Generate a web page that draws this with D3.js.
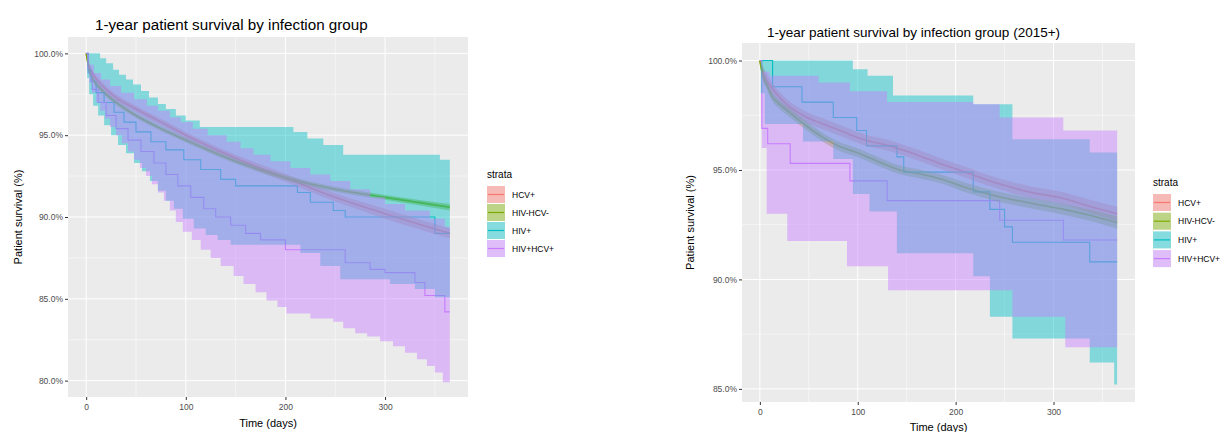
<!DOCTYPE html>
<html><head><meta charset="utf-8">
<script src="https://cdn.jsdelivr.net/npm/d3@7"></script>
<style>
body{margin:0;background:#fff}
svg{display:block}
text{font-family:"Liberation Sans",Arial,sans-serif}
</style>
</head><body>
<svg id="chart" width="1231" height="432"></svg>
<script>
// ---------- shared ----------
const strata = ["HCV+", "HIV-HCV-", "HIV+", "HIV+HCV+"];
const strataColors = ["#F8766D", "#7CAE00", "#00BFC4", "#C77CFF"];
const xTicks = [0, 100, 200, 300];
const xMinorTicks = [50, 150, 250, 350];
const xTitle = "Time (days)";
const yTitle = "Patient survival (%)";
const legendTitle = "strata";

// ---------- left panel: all years ----------
const leftTitle = "1-year patient survival by infection group";
const leftYTicks = [80, 85, 90, 95, 100];
const leftYMinor = [82.5, 87.5, 92.5, 97.5];

const L_hcv_est = [[0,100],[3,99.2],[7,98.7],[15,98.1],[30,97.3],[50,96.6],[75,95.8],[100,95.0],[150,93.6],[200,92.4],[250,91.2],[300,90.2],[365,89.0]];
const L_hcv_lo  = [[0,100],[3,99.0],[7,98.5],[15,97.9],[30,97.1],[50,96.4],[75,95.6],[100,94.8],[150,93.4],[200,92.15],[250,90.95],[300,89.9],[365,88.7]];
const L_hcv_hi  = [[0,100],[3,99.4],[7,98.9],[15,98.3],[30,97.5],[50,96.8],[75,96.0],[100,95.2],[150,93.8],[200,92.65],[250,91.45],[300,90.5],[365,89.3]];

const L_neg_est = [[0,100],[3,99.0],[7,98.4],[15,97.8],[30,97.0],[50,96.2],[75,95.4],[100,94.7],[150,93.4],[200,92.4],[250,91.7],[300,91.2],[365,90.6]];
const L_neg_lo  = [[0,100],[3,98.85],[7,98.25],[15,97.65],[30,96.85],[50,96.05],[75,95.25],[100,94.55],[150,93.25],[200,92.25],[250,91.55],[300,91.05],[365,90.4]];
const L_neg_hi  = [[0,100],[3,99.15],[7,98.55],[15,97.95],[30,97.15],[50,96.35],[75,95.55],[100,94.85],[150,93.55],[200,92.55],[250,91.85],[300,91.35],[365,90.8]];

const L_hiv_est = [[0,100],[2,99.0],[5,98.3],[10,97.6],[18,97.0],[28,96.4],[38,95.8],[50,95.2],[65,94.6],[80,94.1],[98,93.5],[115,92.9],[135,92.3],[150,91.9],[212,91.5],[225,90.9],[248,90.4],[260,90.0],[350,89.0],[365,89.0]];
const L_hiv_hi  = [[0,100],[14,99.7],[20,99.4],[27,99.0],[33,98.7],[40,98.4],[47,98.1],[55,97.7],[63,97.3],[72,96.9],[80,96.6],[90,96.2],[100,95.9],[114,95.5],[208,95.2],[222,94.8],[238,94.4],[258,93.8],[355,93.5],[365,93.5]];
const L_hiv_lo  = [[0,100],[1,98.5],[3,97.5],[7,96.8],[12,96.2],[18,95.6],[25,95.0],[32,94.4],[40,93.9],[48,93.3],[56,92.8],[64,92.2],[72,91.6],[80,91.0],[88,90.5],[97,89.9],[108,89.3],[120,88.9],[132,88.6],[145,88.3],[215,87.8],[235,87.0],[255,86.2],[305,85.9],[330,85.6],[350,85.1],[365,85.1]];

const L_co_est = [[0,100],[2,98.8],[6,97.8],[12,97.0],[20,96.2],[30,95.4],[42,94.7],[55,94.0],[68,93.3],[80,92.6],[92,91.9],[105,91.2],[118,90.5],[130,90.0],[145,89.5],[160,89.0],[175,88.6],[200,88.0],[260,87.2],[285,86.8],[300,86.6],[330,86.0],[340,85.2],[360,84.2],[365,84.2]];
const L_co_hi  = [[0,100],[3,99.3],[8,98.8],[15,98.4],[24,98.0],[35,97.6],[48,97.2],[61,96.8],[72,96.5],[84,96.1],[95,95.8],[107,95.4],[122,95.0],[141,94.6],[155,94.2],[168,93.8],[185,93.4],[205,93.0],[225,92.6],[245,92.2],[265,91.7],[285,91.2],[300,90.8],[320,90.4],[345,89.9],[360,89.4],[365,89.4]];
const L_co_lo  = [[0,100],[1,99.0],[3,98.2],[6,97.6],[10,97.0],[14,96.5],[19,96.0],[24,95.5],[30,95.0],[36,94.5],[42,94.0],[48,93.5],[54,93.0],[60,92.5],[66,92.0],[72,91.5],[78,91.0],[84,90.4],[90,89.7],[97,89.1],[106,88.6],[115,88.0],[125,87.5],[135,87.0],[148,86.4],[158,85.9],[170,85.4],[181,84.9],[192,84.5],[201,84.1],[225,83.8],[248,83.6],[258,83.2],[270,82.9],[282,82.7],[295,82.4],[308,82.1],[320,81.7],[332,81.3],[342,80.9],[350,80.5],[358,79.9],[365,79.9]];

// ---------- right panel: 2015+ ----------
const rightTitle = "1-year patient survival by infection group (2015+)";
const rightYTicks = [85, 90, 95, 100];
const rightYMinor = [87.5, 92.5, 97.5];

const R_hcv_est = [[0,100],[3,99.5],[7,99.1],[13,98.7],[25,98.1],[48,97.4],[65,97.1],[82,96.8],[105,96.4],[133,96.1],[160,95.7],[184,95.3],[210,94.9],[242,94.4],[275,94.0],[310,93.7],[340,93.3],[365,93.0]];
const R_hcv_lo  = [[0,100],[3,99.2],[7,98.8],[13,98.45],[25,97.85],[48,97.15],[65,96.85],[82,96.55],[105,96.15],[133,95.85],[160,95.45],[184,95.05],[210,94.65],[242,94.15],[275,93.73],[310,93.42],[340,93.0],[365,92.68]];
const R_hcv_hi  = [[0,100],[3,99.75],[7,99.4],[13,98.95],[25,98.35],[48,97.65],[65,97.35],[82,97.05],[105,96.65],[133,96.35],[160,95.95],[184,95.55],[210,95.15],[242,94.65],[275,94.27],[310,93.98],[340,93.6],[365,93.32]];

const R_neg_est = [[0,100],[3,99.3],[7,98.9],[12,98.4],[20,98.0],[31,97.6],[45,97.1],[64,96.5],[80,96.1],[99,95.8],[120,95.4],[143,95.0],[165,94.8],[184,94.6],[210,94.2],[242,93.8],[275,93.5],[310,93.2],[340,92.9],[365,92.6]];
const R_neg_lo  = [[0,100],[3,99.1],[7,98.7],[12,98.2],[20,97.8],[31,97.4],[45,96.9],[64,96.3],[80,95.9],[99,95.6],[120,95.2],[143,94.8],[165,94.6],[184,94.4],[210,93.98],[242,93.57],[275,93.26],[310,92.95],[340,92.64],[365,92.32]];
const R_neg_hi  = [[0,100],[3,99.5],[7,99.1],[12,98.6],[20,98.2],[31,97.8],[45,97.3],[64,96.7],[80,96.3],[99,96.0],[120,95.6],[143,95.2],[165,95.0],[184,94.8],[210,94.42],[242,94.03],[275,93.74],[310,93.45],[340,93.16],[365,92.88]];

const R_hiv_est = [[0,100],[13,98.8],[43,98.1],[75,97.4],[99,96.8],[109,96.1],[140,95.6],[147,94.9],[218,94.0],[235,93.2],[250,92.4],[258,91.7],[337,90.8],[365,90.8]];
const R_hiv_hi  = [[0,100],[95,99.6],[110,99.3],[136,98.4],[218,98.0],[258,96.4],[337,95.8],[365,95.8]];
const R_hiv_lo  = [[0,100],[1,98.5],[5,97.1],[44,96.3],[75,95.5],[95,93.9],[112,93.1],[140,91.2],[218,90.15],[235,88.3],[258,87.3],[337,86.2],[362,85.2],[365,85.2]];

const R_co_est = [[0,100],[2,96.9],[8,96.2],[31,95.3],[92,94.5],[130,93.6],[245,92.7],[310,91.8],[365,91.8]];
const R_co_hi  = [[0,100],[2,99.5],[10,99.3],[60,99.0],[92,98.6],[130,98.1],[218,98.0],[245,97.4],[310,96.8],[365,96.8]];
const R_co_lo  = [[0,100],[2,96.0],[7,93.0],[28,91.75],[89,90.6],[131,89.5],[258,88.3],[312,86.9],[365,86.9]];

// ---------- drawing ----------
const svg = d3.select("#chart");

function stepValue(arr, t) {
  let v = arr[0][1];
  for (const p of arr) { if (p[0] <= t) v = p[1]; else break; }
  return v;
}

function drawPanel(cfg) {
  const g = svg.append("g");
  const x = d3.scaleLinear().domain([-18.25, 383.25]).range([cfg.left, cfg.right]);
  const y = d3.scaleLinear().domain(cfg.yDomain).range([cfg.bottom, cfg.top]);

  g.append("rect").attr("x", cfg.left).attr("y", cfg.top)
    .attr("width", cfg.right - cfg.left).attr("height", cfg.bottom - cfg.top)
    .attr("fill", "#EBEBEB");

  // grid
  g.selectAll(".ymin").data(cfg.yMinor).enter().append("line")
    .attr("x1", cfg.left).attr("x2", cfg.right)
    .attr("y1", d => y(d)).attr("y2", d => y(d))
    .attr("stroke", "#fff").attr("stroke-width", 0.5);
  g.selectAll(".xmin").data(xMinorTicks).enter().append("line")
    .attr("y1", cfg.top).attr("y2", cfg.bottom)
    .attr("x1", d => x(d)).attr("x2", d => x(d))
    .attr("stroke", "#fff").attr("stroke-width", 0.5);
  g.selectAll(".ymaj").data(cfg.yTicks).enter().append("line")
    .attr("x1", cfg.left).attr("x2", cfg.right)
    .attr("y1", d => y(d)).attr("y2", d => y(d))
    .attr("stroke", "#fff").attr("stroke-width", 1);
  g.selectAll(".xmaj").data(xTicks).enter().append("line")
    .attr("y1", cfg.top).attr("y2", cfg.bottom)
    .attr("x1", d => x(d)).attr("x2", d => x(d))
    .attr("stroke", "#fff").attr("stroke-width", 1);

  const clipId = "clip" + cfg.id;
  svg.append("clipPath").attr("id", clipId).append("rect")
    .attr("x", cfg.left).attr("y", cfg.top)
    .attr("width", cfg.right - cfg.left).attr("height", cfg.bottom - cfg.top);
  const plot = g.append("g").attr("clip-path", `url(#${clipId})`);

  // lines first
  cfg.series.forEach((s, i) => {
    const curve = s.step ? d3.curveStepAfter : d3.curveMonotoneX;
    const line = d3.line().x(d => x(d[0])).y(d => y(d[1])).curve(curve);
    plot.append("path").attr("d", line(s.est))
      .attr("fill", "none").attr("stroke", strataColors[i])
      .attr("stroke-width", s.step ? 1.1 : 1.6);
  });
  // ribbons on top
  cfg.series.forEach((s, i) => {
    let pts, curve;
    if (s.step) {
      const times = Array.from(new Set(s.lo.map(d => d[0]).concat(s.hi.map(d => d[0])))).sort((a, b) => a - b);
      pts = times.map(t => [t, stepValue(s.lo, t), stepValue(s.hi, t)]);
      curve = d3.curveStepAfter;
    } else {
      pts = s.lo.map((d, k) => [d[0], d[1], s.hi[k][1]]);
      curve = d3.curveMonotoneX;
    }
    const area = d3.area().x(d => x(d[0])).y0(d => y(d[1])).y1(d => y(d[2])).curve(curve);
    plot.append("path").attr("d", area(pts))
      .attr("fill", strataColors[i]).attr("fill-opacity", 0.45).attr("stroke", "none");
  });

  // axes
  const ya = g.append("g").attr("transform", `translate(${cfg.left},0)`)
    .call(d3.axisLeft(y).tickValues(cfg.yTicks).tickSize(3).tickPadding(2)
      .tickFormat(d => d3.format(".1f")(d) + "%"));
  const xa = g.append("g").attr("transform", `translate(0,${cfg.bottom})`)
    .call(d3.axisBottom(x).tickValues(xTicks).tickSize(3).tickPadding(4));
  [ya, xa].forEach(a => {
    a.select(".domain").remove();
    a.selectAll(".tick line").attr("stroke", "#333");
    a.selectAll(".tick text").attr("fill", "#4D4D4D").attr("font-size", 8.5)
      .attr("font-family", "Liberation Sans, Arial, sans-serif");
  });

  // titles
  g.append("text").attr("x", cfg.titleX).attr("y", cfg.titleY)
    .attr("font-size", cfg.titleSize).attr("fill", "#000").text(cfg.title);
  g.append("text").attr("x", (cfg.left + cfg.right) / 2).attr("y", cfg.xTitleY)
    .attr("text-anchor", "middle").attr("font-size", 11).attr("fill", "#000").text(xTitle);
  g.append("text")
    .attr("transform", `translate(${cfg.yTitleX},${(cfg.top + cfg.bottom) / 2}) rotate(-90)`)
    .attr("text-anchor", "middle").attr("font-size", 11).attr("fill", "#000").text(yTitle);

  // legend
  const lg = g.append("g").attr("transform", `translate(${cfg.legX},${cfg.legY})`);
  lg.append("text").attr("x", 0).attr("y", 0).attr("font-size", 10).attr("fill", "#000").text(legendTitle);
  strata.forEach((s, i) => {
    const ky = 8 + i * cfg.legStep;
    lg.append("rect").attr("x", 0).attr("y", ky).attr("width", 18).attr("height", 17).attr("fill", "#F2F2F2");
    lg.append("rect").attr("x", 0).attr("y", ky).attr("width", 18).attr("height", 17)
      .attr("fill", strataColors[i]).attr("fill-opacity", 0.45);
    lg.append("line").attr("x1", 1).attr("x2", 17).attr("y1", ky + 8.5).attr("y2", ky + 8.5)
      .attr("stroke", strataColors[i]).attr("stroke-width", 1.2);
    lg.append("text").attr("x", 25).attr("y", ky + 11.5).attr("font-size", 8.5).attr("fill", "#000").text(s);
  });
}

drawPanel({
  id: "L", left: 68, right: 468, top: 37, bottom: 397, yDomain: [79, 101],
  yTicks: leftYTicks, yMinor: leftYMinor,
  title: leftTitle, titleX: 95, titleY: 30, titleSize: 15.2,
  xTitleY: 427, yTitleX: 22,
  legX: 487, legY: 178, legStep: 18,
  series: [
    {est: L_hcv_est, lo: L_hcv_lo, hi: L_hcv_hi, step: false},
    {est: L_neg_est, lo: L_neg_lo, hi: L_neg_hi, step: false},
    {est: L_hiv_est, lo: L_hiv_lo, hi: L_hiv_hi, step: true},
    {est: L_co_est, lo: L_co_lo, hi: L_co_hi, step: true}
  ]
});

drawPanel({
  id: "R", left: 742, right: 1135, top: 43, bottom: 402, yDomain: [84.4, 100.8],
  yTicks: rightYTicks, yMinor: rightYMinor,
  title: rightTitle, titleX: 767, titleY: 37, titleSize: 13.5,
  xTitleY: 431, yTitleX: 694,
  legX: 1153, legY: 186, legStep: 18.7,
  series: [
    {est: R_hcv_est, lo: R_hcv_lo, hi: R_hcv_hi, step: false},
    {est: R_neg_est, lo: R_neg_lo, hi: R_neg_hi, step: false},
    {est: R_hiv_est, lo: R_hiv_lo, hi: R_hiv_hi, step: true},
    {est: R_co_est, lo: R_co_lo, hi: R_co_hi, step: true}
  ]
});
</script>
</body></html>
